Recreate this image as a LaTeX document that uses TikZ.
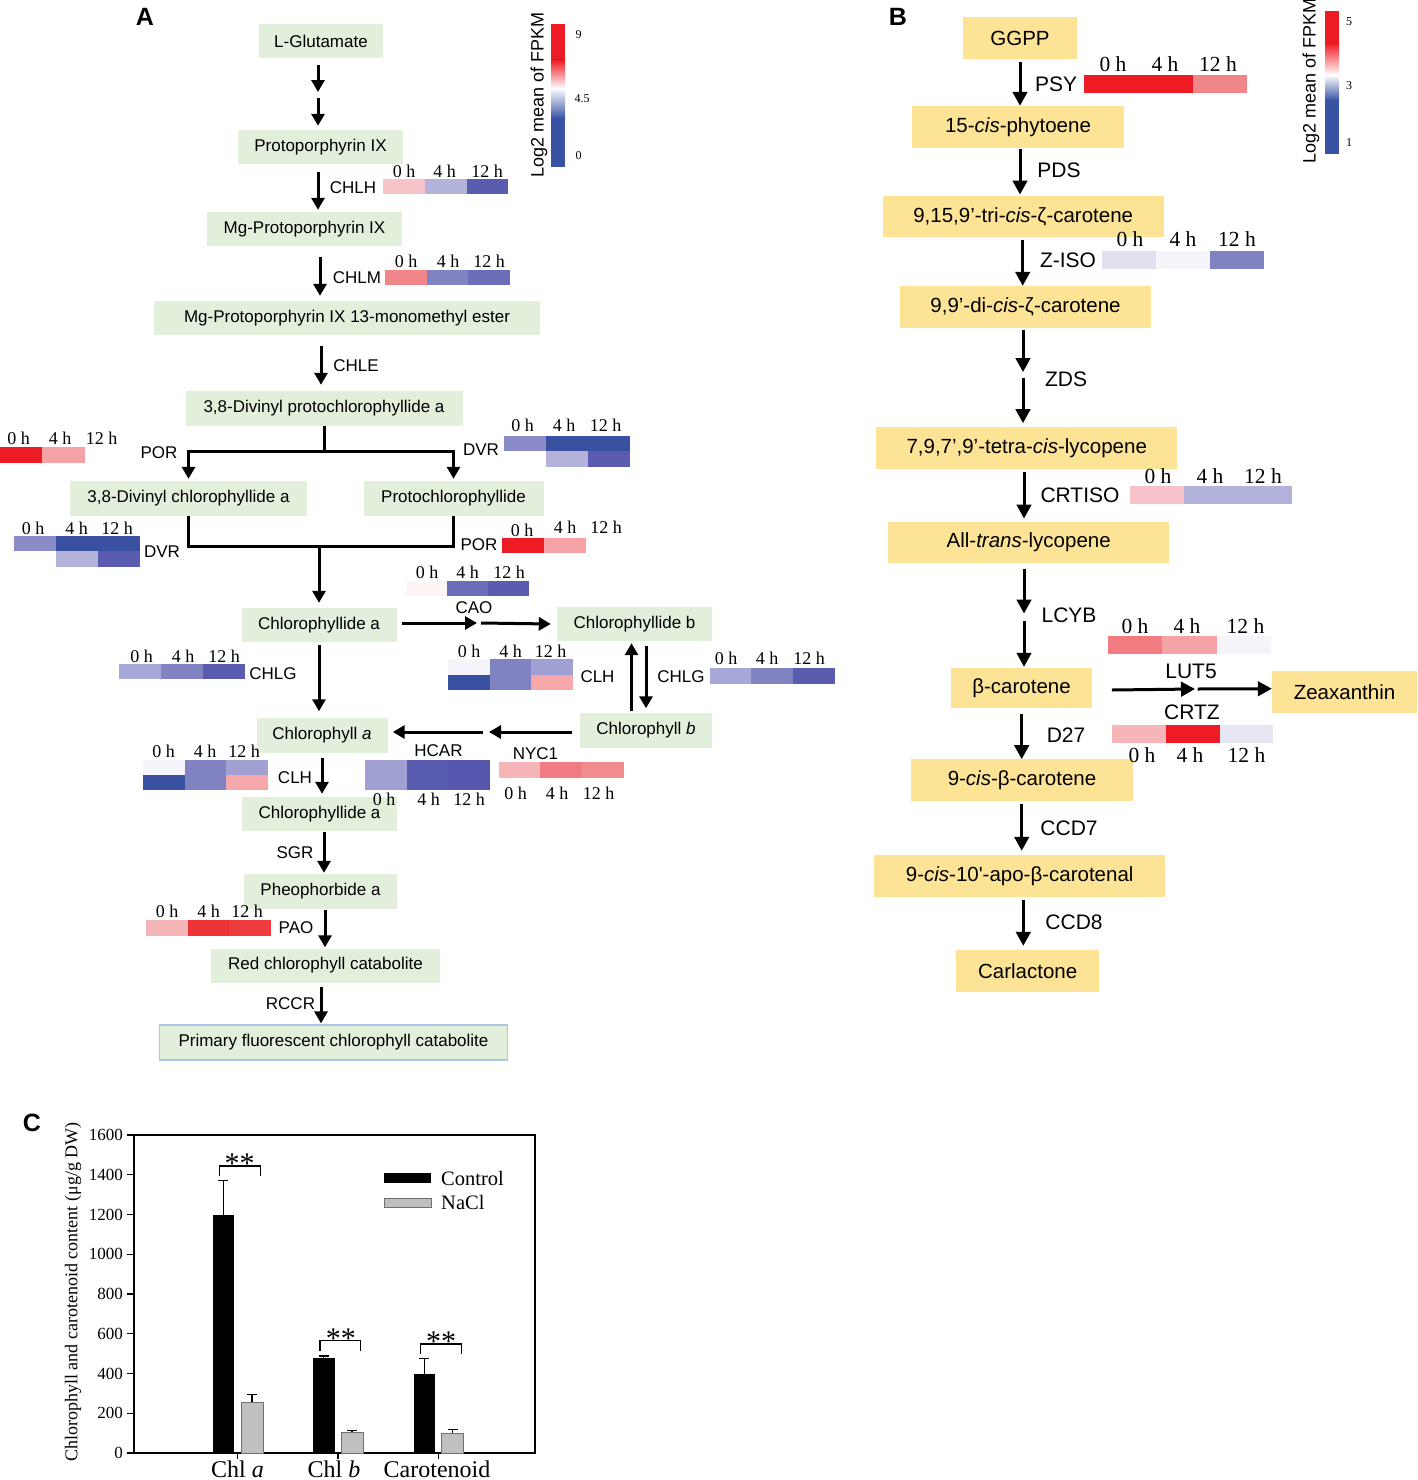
\documentclass[tikz,border=0pt]{standalone}
\usepackage{fontspec}
\setmainfont{Liberation Sans}
\newfontfamily\tms{Liberation Serif}
\usetikzlibrary{arrows.meta}

\definecolor{gA}{HTML}{E2EFDA}
\definecolor{yB}{HTML}{FCE396}
\definecolor{bdr}{HTML}{A9C6E6}
\definecolor{cR}{HTML}{ED1C24}
\definecolor{cB}{HTML}{3953A4}
\definecolor{hR2}{HTML}{EE3336}
\definecolor{hR3}{HTML}{EE3C3E}
\definecolor{pk1}{HTML}{F7C3C8}
\definecolor{pk2}{HTML}{F4A2A5}
\definecolor{pk3}{HTML}{F6B5B8}
\definecolor{pk4}{HTML}{F6A8AA}
\definecolor{sal}{HTML}{F0868A}
\definecolor{sal2}{HTML}{F07C82}
\definecolor{sal3}{HTML}{F08B8E}
\definecolor{bD}{HTML}{3A50A0}
\definecolor{bM}{HTML}{5A5CB0}
\definecolor{bM2}{HTML}{6C6DB8}
\definecolor{bM3}{HTML}{5656AE}
\definecolor{bL}{HTML}{8B8BC8}
\definecolor{bL2}{HTML}{8182C2}
\definecolor{lv}{HTML}{A8A8D8}
\definecolor{lv2}{HTML}{B2B2DB}
\definecolor{lv3}{HTML}{A0A0D2}
\definecolor{nw}{HTML}{F4F4FA}
\definecolor{nw2}{HTML}{FDF4F4}
\definecolor{gBar}{HTML}{C0C0C0}
\definecolor{gEdge}{HTML}{707070}

\tikzset{
  boxA/.style={fill=gA, inner sep=0pt, font=\fontsize{17}{20}\selectfont},
  boxB/.style={fill=yB, inner sep=0pt, font=\fontsize{20.5}{24}\selectfont},
  enzA/.style={inner sep=0pt, font=\fontsize{17}{20}\selectfont},
  enzB/.style={inner sep=0pt, font=\fontsize{21}{24}\selectfont},
  tA/.style={inner sep=0pt, font=\tms\fontsize{18}{20}\selectfont},
  tB/.style={inner sep=0pt, font=\tms\fontsize{21.5}{24}\selectfont},
  arr/.style={line width=3pt, -{Triangle[width=13pt,length=12pt]}},
  arrB/.style={line width=3pt, -{Triangle[width=14.5pt,length=14pt]}},
  ln/.style={line width=3pt},
  cbl/.style={inner sep=0pt, font=\tms\fontsize{12}{14}\selectfont},
  cbt/.style={inner sep=0pt, rotate=90, font=\fontsize{18}{20}\selectfont},
  plab/.style={inner sep=0pt, font=\bfseries\fontsize{25}{25}\selectfont},
  tick/.style={inner sep=0pt, anchor=east, font=\tms\fontsize{17}{18}\selectfont},
  axl/.style={line width=1.3pt},
}

\newcommand\bx[7]{\node[#1,minimum width=#5pt,minimum height=#6pt] (#2) at (#3,#4) {#7};}
\newcommand\tl[6]{\node[#1] (#2a) at (#4,#3) {0 h};\node[#1] (#2b) at (#5,#3) {4 h};\node[#1] (#2c) at (#6,#3) {12 h};}
\newcommand\hm[7]{%
  \fill[#5] (#1,#2) rectangle ({#1+#4},#3);
  \fill[#6] ({#1+#4},#2) rectangle ({#1+2*#4},#3);
  \fill[#7] ({#1+2*#4},#2) rectangle ({#1+3*#4},#3);}
\newcommand\mybar[6]{%
  \pgfmathsetmacro\yt{1453-#3*0.19875}%
  \pgfmathsetmacro\ye{1453-#4*0.19875}%
  \pgfmathsetmacro\xm{(#1+#2)/2}%
  \draw[#6,line width=1.3pt] (\xm,\yt) -- (\xm,\ye) ({\xm-5},\ye) -- ({\xm+5},\ye);
  \path[#5] (#1,\yt) rectangle (#2,1453);}

\begin{document}
\begin{tikzpicture}[x=1pt,y=-1pt]
\useasboundingbox (0,0) rectangle (1417,1480);

% ---------------- Panel A ----------------
\node[plab] (lA) at (145,17) {A};

\bx{boxA}{glut}{321}{41}{124}{34}{L-Glutamate}
\bx{boxA}{proto}{320.5}{147}{165}{34}{Protoporphyrin IX}
\bx{boxA}{mgp}{304.5}{229}{195}{34}{Mg-Protoporphyrin IX}
\bx{boxA}{mgpe}{347}{318}{386}{34}{Mg-Protoporphyrin IX 13-monomethyl ester}
\bx{boxA}{dvp}{324}{408.5}{277}{35}{3,8-Divinyl protochlorophyllide a}
\bx{boxA}{dvc}{188.5}{498.5}{237}{35}{3,8-Divinyl chlorophyllide a}
\bx{boxA}{pchl}{453.5}{498.5}{180}{35}{Protochlorophyllide}
\bx{boxA}{chlda}{319}{625}{155}{34}{Chlorophyllide a}
\bx{boxA}{chldb}{634.5}{624}{155}{34}{Chlorophyllide b}
\bx{boxA}{chlb}{646}{730}{132}{35}{Chlorophyll \textit{b}}
\bx{boxA}{chla}{322}{735}{131}{35}{Chlorophyll \textit{a}}
\bx{boxA}{chlda2}{319.5}{814}{155}{34}{Chlorophyllide a}
\bx{boxA}{pheo}{320.5}{891.5}{153}{35}{Pheophorbide a}
\bx{boxA}{rcc}{325.5}{965.5}{229}{34}{Red chlorophyll catabolite}
\node[boxA, draw=bdr, line width=1.2pt, minimum width=348pt, minimum height=35pt] (pfcc) at (333.5,1042.5) {Primary fluorescent chlorophyll catabolite};

% arrows A
\coordinate (gmid) at (318,95);
\draw[arr] ([xshift=-3pt,yshift=-7pt]glut.south) -- ([yshift=3pt]gmid);
\draw[arr] ([yshift=-3pt]gmid) -- ([xshift=-2.5pt,yshift=4pt]proto.north);
\draw[arr] ([xshift=-2.5pt,yshift=-8pt]proto.south) -- ([xshift=13.5pt,yshift=2pt]mgp.north);
\draw[arr] ([xshift=15.5pt,yshift=-11pt]mgp.south) -- ([xshift=-27pt,yshift=5pt]mgpe.north);
\draw[arr] ([xshift=-26pt,yshift=-11pt]mgpe.south) -- ([xshift=-3pt,yshift=6pt]dvp.north);

\coordinate (brL) at (188.5,451);
\coordinate (brR) at (453.5,451);
\draw[ln] (dvp.south) -- (dvp.south |- brL);
\draw[arr] (brR) -- (brL) -- ([yshift=2pt]dvc.north);
\draw[arr] (brL) -- (brR) -- ([yshift=2pt]pchl.north);

\coordinate (jL) at (188.5,546);
\coordinate (jR) at (453.5,546);
\draw[ln] (dvc.south) -- (jL) -- (jR) -- (pchl.south);
\draw[arr] (chlda.north |- jL) -- ([yshift=5pt]chlda.north);

\coordinate (cmid) at (479,623);
\draw[arr] ([xshift=5.5pt,yshift=2pt]chlda.east) -- ([xshift=-2pt]cmid);
\draw[arr] ([xshift=2pt]cmid) -- ([xshift=-6pt]chldb.west);

\draw[arr] ([yshift=-3pt]chlda.south) -- ([xshift=-3pt,yshift=6pt]chla.north);
\draw[arr] ([xshift=-14.5pt,yshift=1pt]chlb.north) -- ([xshift=-3pt,yshift=-2pt]chldb.south);
\draw[arr] ([xshift=11.5pt,yshift=-5pt]chldb.south) -- ([yshift=4pt]chlb.north);

\coordinate (bmid) at (486,732);
\draw[arr] ([xshift=-8pt,yshift=-2pt]chlb.west) -- ([xshift=3pt]bmid);
\draw[arr] ([xshift=-3pt]bmid) -- ([xshift=5pt,yshift=3pt]chla.east);

\draw[arr] ([yshift=-5.5pt]chla.south) -- ([xshift=2.5pt,yshift=3pt]chlda2.north);
\draw[arr] ([xshift=4.5pt,yshift=-1pt]chlda2.south) -- ([xshift=3.5pt,yshift=1pt]pheo.north);
\draw[arr] ([xshift=4.5pt,yshift=-1pt]pheo.south) -- ([xshift=-0.5pt,yshift=1pt]rcc.north);
\draw[arr] ([xshift=-4.5pt,yshift=-4pt]rcc.south) -- ([xshift=-12.5pt,yshift=1pt]pfcc.north);

% enzyme labels A
\node[enzA] (eCHLH) at (353,188) {CHLH};
\node[enzA] (eCHLM) at (357,277.5) {CHLM};
\node[enzA] (eCHLE) at (356,366) {CHLE};
\node[enzA] (ePOR1) at (159,452.5) {POR};
\node[enzA] (eDVR1) at (481,449.5) {DVR};
\node[enzA] (eDVR2) at (162,552) {DVR};
\node[enzA] (ePOR2) at (479,544.5) {POR};
\node[enzA] (eCAO) at (474,607.5) {CAO};
\node[enzA] (eCHLG1) at (273,674) {CHLG};
\node[enzA] (eCLH1) at (597.5,677) {CLH};
\node[enzA] (eCHLG2) at (681,676.5) {CHLG};
\node[enzA] (eCLH2) at (295,777.5) {CLH};
\node[enzA] (eHCAR) at (438.5,751) {HCAR};
\node[enzA] (eNYC1) at (535.5,753.5) {NYC1};
\node[enzA] (eSGR) at (295,853) {SGR};
\node[enzA] (ePAO) at (296,928) {PAO};
\node[enzA] (eRCCR) at (290.5,1003.5) {RCCR};

% heatmaps A
\hm{383}{179}{194}{41.8}{pk1}{lv2}{bM}
\tl{tA}{tCHLH}{171.5}{404}{444.5}{487}
\hm{385}{269.5}{284.5}{41.7}{sal}{bL2}{bM2}
\tl{tA}{tCHLM}{261.5}{406}{448}{489}
% POR left
\fill[cR] (0,447) rectangle (42.2,462.5);
\fill[pk2] (42.2,447) rectangle (84.8,462.5);
\tl{tA}{tPOR1}{438.5}{18.5}{60}{101.5}
% DVR right
\fill[bL] (504,436) rectangle (546,451);
\fill[bD] (546,436) rectangle (630,451);
\fill[lv2] (546,451) rectangle (588,466.5);
\fill[bM] (588,451) rectangle (630,466.5);
\tl{tA}{tDVR1}{425}{522.5}{564}{605.5}
% DVR left
\fill[bL] (14,536) rectangle (55.8,551);
\fill[bD] (55.8,536) rectangle (139.5,551);
\fill[lv2] (55.8,551) rectangle (97.6,567);
\fill[bM] (97.6,551) rectangle (139.5,567);
\tl{tA}{tDVR2}{528}{33}{76.5}{117}
% POR right
\fill[cR] (502,538) rectangle (544,553);
\fill[pk2] (544,538) rectangle (586,553);
\node[tA] (tPOR2a) at (522,530.5) {0 h};
\node[tA] (tPOR2b) at (565,527) {4 h};
\node[tA] (tPOR2c) at (606,527) {12 h};
% CAO
\hm{406}{580.5}{596}{41}{nw2}{bM2}{bM}
\tl{tA}{tCAO}{572.5}{427}{467.5}{509}
% CHLG left
\hm{119}{664}{679}{42}{lv}{bL2}{bM}
\tl{tA}{tCHLG1}{656}{141.5}{183}{224}
% CLH mid
\fill[nw] (448,659) rectangle (489.7,675);
\fill[bD] (448,675) rectangle (489.7,690);
\fill[bL2] (489.7,659) rectangle (531.4,690);
\fill[lv3] (531.4,659) rectangle (573,675);
\fill[pk4] (531.4,675) rectangle (573,690);
\tl{tA}{tCLH1}{651}{469}{510.5}{550.5}
% CHLG right
\hm{709.5}{668.3}{683.5}{41.7}{lv}{bL2}{bM}
\tl{tA}{tCHLG2}{658}{726}{767}{809}
% CLH left
\fill[nw] (143,759.5) rectangle (184.7,774.5);
\fill[bD] (143,774.5) rectangle (184.7,790);
\fill[bL2] (184.7,759.5) rectangle (226.4,790);
\fill[lv3] (226.4,759.5) rectangle (268,774.5);
\fill[pk4] (226.4,774.5) rectangle (268,790);
\tl{tA}{tCLH2}{751.5}{163.5}{205}{244}
% HCAR
\hm{365}{759.5}{790}{41.6}{lv3}{bM}{bM3}
\tl{tA}{tHCAR}{799}{384}{428.5}{469}
% NYC1
\hm{498.6}{762.3}{778}{41.7}{pk3}{sal2}{sal3}
\tl{tA}{tNYC1}{793}{515.5}{557}{598.5}
% PAO
\hm{146}{920}{935.7}{41.6}{pk3}{hR2}{hR3}
\tl{tA}{tPAO}{911}{167}{208.5}{247}

% colour bar A
\fill[cR] (551,24) rectangle (565,60.5);
\shade[top color=cR, bottom color=white] (551,60) rectangle (565,88.5);
\shade[top color=white, bottom color=cB] (551,88) rectangle (565,118.5);
\fill[cB] (551,118) rectangle (565,166.5);
\node[cbl] (cbA9) at (578.5,35) {9};
\node[cbl] (cbA45) at (582,99) {4.5};
\node[cbl] (cbA0) at (578.5,155.5) {0};
\node[cbt] (cbAt) at (539,95) {Log2 mean of FPKM};

% ---------------- Panel B ----------------
\node[plab] (lB) at (898,17) {B};

\bx{boxB}{ggpp}{1020}{38.3}{114.6}{42}{GGPP}
\bx{boxB}{phyt}{1018}{126.8}{211.4}{41.7}{15-\textit{cis}-phytoene}
\bx{boxB}{tric}{1023.2}{216.5}{281}{41.6}{9,15,9’-tri-\textit{cis}-ζ-carotene}
\bx{boxB}{dic}{1025.5}{307}{251.3}{42}{9,9’-di-\textit{cis}-ζ-carotene}
\bx{boxB}{tetra}{1026.7}{448.2}{301.3}{41.7}{7,9,7’,9’-tetra-\textit{cis}-lycopene}
\bx{boxB}{alltr}{1028.7}{542.5}{280.7}{41.6}{All-\textit{trans}-lycopene}
\bx{boxB}{bcar}{1021.5}{688}{141}{40}{β-carotene}
\bx{boxB}{zeax}{1344.5}{691.7}{145}{42}{Zeaxanthin}
\bx{boxB}{ncb}{1022}{780.2}{222.6}{41.7}{9-\textit{cis}-β-carotene}
\bx{boxB}{apo}{1019.7}{875.8}{291.3}{41.7}{9-\textit{cis}-10\textquotesingle-apo-β-carotenal}
\bx{boxB}{carl}{1027.7}{971}{143.3}{42}{Carlactone}

% arrows B
\draw[arrB] ([yshift=-3pt]ggpp.south) -- ([xshift=2pt]phyt.north);
\draw[arrB] ([xshift=2pt,yshift=-1pt]phyt.south) -- ([xshift=-3.2pt,yshift=1pt]tric.north);
\draw[arrB] ([xshift=-0.5pt,yshift=-2pt]tric.south) -- ([xshift=-2.8pt]dic.north);
\coordinate (dmid) at (1023,375);
\draw[arrB] ([xshift=-2.5pt,yshift=-2pt]dic.south) -- ([yshift=3pt]dmid);
\draw[arrB] ([yshift=-3pt]dmid) -- ([xshift=-3.7pt,yshift=4pt]tetra.north);
\draw[arrB] ([xshift=-2.7pt,yshift=-3pt]tetra.south) -- ([xshift=-4.7pt,yshift=3pt]alltr.north);
\coordinate (lmid) at (1024,617);
\draw[arrB] ([xshift=-4.7pt,yshift=-5pt]alltr.south) -- ([yshift=3.5pt]lmid);
\draw[arrB] ([yshift=-4pt]lmid) -- ([xshift=2.5pt,yshift=1pt]bcar.north);
\coordinate (zmid) at (1196,689);
\draw[arrB] ([xshift=19.7pt,yshift=-2pt]bcar.east) -- ([xshift=-1pt]zmid);
\draw[arrB] ([xshift=1.5pt]zmid) -- ([yshift=3pt]zeax.west);
\draw[arrB] ([xshift=0.2pt,yshift=-6pt]bcar.south) -- ([xshift=-0.3pt]ncb.north);
\draw[arrB] ([xshift=-0.3pt,yshift=-3pt]ncb.south) -- ([xshift=2pt,yshift=4pt]apo.north);
\draw[arrB] ([xshift=3.6pt,yshift=-3.3pt]apo.south) -- ([xshift=-4.4pt,yshift=4pt]carl.north);

% enzyme labels B
\node[enzB] (ePSY) at (1056,84.5) {PSY};
\node[enzB] (ePDS) at (1059,170.5) {PDS};
\node[enzB] (eZISO) at (1068,260) {Z-ISO};
\node[enzB] (eZDS) at (1066,379) {ZDS};
\node[enzB] (eCRTISO) at (1080,495) {CRTISO};
\node[enzB] (eLCYB) at (1069,615) {LCYB};
\node[enzB] (eLUT5) at (1191,671.5) {LUT5};
\node[enzB] (eCRTZ) at (1192,712.5) {CRTZ};
\node[enzB] (eD27) at (1066,735) {D27};
\node[enzB] (eCCD7) at (1069,828.5) {CCD7};
\node[enzB] (eCCD8) at (1074,922.5) {CCD8};

% heatmaps B
\hm{1084.3}{75}{93.3}{54.2}{cR}{cR}{sal}
\tl{tB}{tPSY}{64.5}{1113}{1165}{1218}
\hm{1102.3}{250.7}{268.7}{54}{nw!70!lv2}{nw}{bL2}
\tl{tB}{tZISO}{239.5}{1130}{1183}{1237}
\hm{1130}{485.7}{503.7}{54}{pk1}{lv2}{lv2}
\tl{tB}{tCRTISO}{476}{1158}{1210}{1263}
\hm{1108}{636}{654.3}{54.3}{sal2}{pk2}{nw}
\tl{tB}{tLCYB}{626}{1135}{1187}{1245.5}
\hm{1111.7}{725.3}{743.3}{53.9}{pk3}{cR}{nw!80!lv2}
\tl{tB}{tCRTZ}{755.5}{1142}{1190}{1246.5}

% colour bar B
\fill[cR] (1325,11) rectangle (1339,43.5);
\shade[top color=cR, bottom color=white] (1325,43) rectangle (1339,75.5);
\shade[top color=white, bottom color=cB] (1325,75) rectangle (1339,100.5);
\fill[cB] (1325,100) rectangle (1339,154);
\node[cbl] (cbB5) at (1349,21.5) {5};
\node[cbl] (cbB3) at (1349,86) {3};
\node[cbl] (cbB1) at (1349,143) {1};
\node[cbt] (cbBt) at (1311,81) {Log2 mean of FPKM};

% ---------------- Panel C ----------------
\node[plab] (lC) at (32,1123) {C};

\draw[axl] (134,1135) rectangle (535,1453);
\foreach \v in {0,200,...,1600}{
  \draw[axl] (127,{1453-\v*0.19875}) -- (134,{1453-\v*0.19875});
  \node[tick] (yt\v) at (123,{1453-\v*0.19875}) {\v};
}
\foreach \xx in {237.5,338,438.5}{
  \draw[axl] (\xx,1453) -- (\xx,1459);
}

\mybar{212.5}{234}{1200}{1370}{fill=black}{black}
\mybar{241}{263}{255}{295}{fill=gBar,draw=gEdge,line width=0.8pt}{black}
\mybar{313}{334.5}{478}{488}{fill=black}{black}
\mybar{341}{363}{105}{115}{fill=gBar,draw=gEdge,line width=0.8pt}{black}
\mybar{413.5}{435}{400}{475}{fill=black}{black}
\mybar{441.5}{463.5}{100}{118}{fill=gBar,draw=gEdge,line width=0.8pt}{black}

\draw[axl] (219.6,1176) -- (219.6,1166) -- (260.5,1166) -- (260.5,1176);
\draw[axl] (319.9,1350.7) -- (319.9,1340.7) -- (360.7,1340.7) -- (360.7,1350.7);
\draw[axl] (420.5,1354) -- (420.5,1344) -- (461.3,1344) -- (461.3,1354);
\node[inner sep=0pt, anchor=base, font=\tms\fontsize{30}{30}\selectfont] (s1) at (239.5,1173) {**};
\node[inner sep=0pt, anchor=base, font=\tms\fontsize{30}{30}\selectfont] (s2) at (340.8,1348) {**};
\node[inner sep=0pt, anchor=base, font=\tms\fontsize{30}{30}\selectfont] (s3) at (441,1351) {**};

\fill[black] (384,1173) rectangle (431,1183);
\filldraw[fill=gBar, draw=gEdge, line width=0.8pt] (384,1198) rectangle (431,1207.5);
\node[inner sep=0pt, anchor=west, font=\tms\fontsize{20.5}{22}\selectfont] (lgC) at (441,1178) {Control};
\node[inner sep=0pt, anchor=west, font=\tms\fontsize{20.5}{22}\selectfont] (lgN) at (441,1202.5) {NaCl};

\node[inner sep=0pt, anchor=base, font=\tms\fontsize{24}{26}\selectfont] (xa) at (237.5,1477) {Chl \textit{a}};
\node[inner sep=0pt, anchor=base, font=\tms\fontsize{24}{26}\selectfont] (xb) at (334,1477) {Chl \textit{b}};
\node[inner sep=0pt, anchor=base, font=\tms\fontsize{24}{26}\selectfont] (xc) at (437,1477) {Carotenoid};
\node[inner sep=0pt, rotate=90, font=\tms\fontsize{18}{20}\selectfont] (ylab) at (73,1292) {Chlorophyll and carotenoid content (μg/g DW)};

\end{tikzpicture}
\end{document}
